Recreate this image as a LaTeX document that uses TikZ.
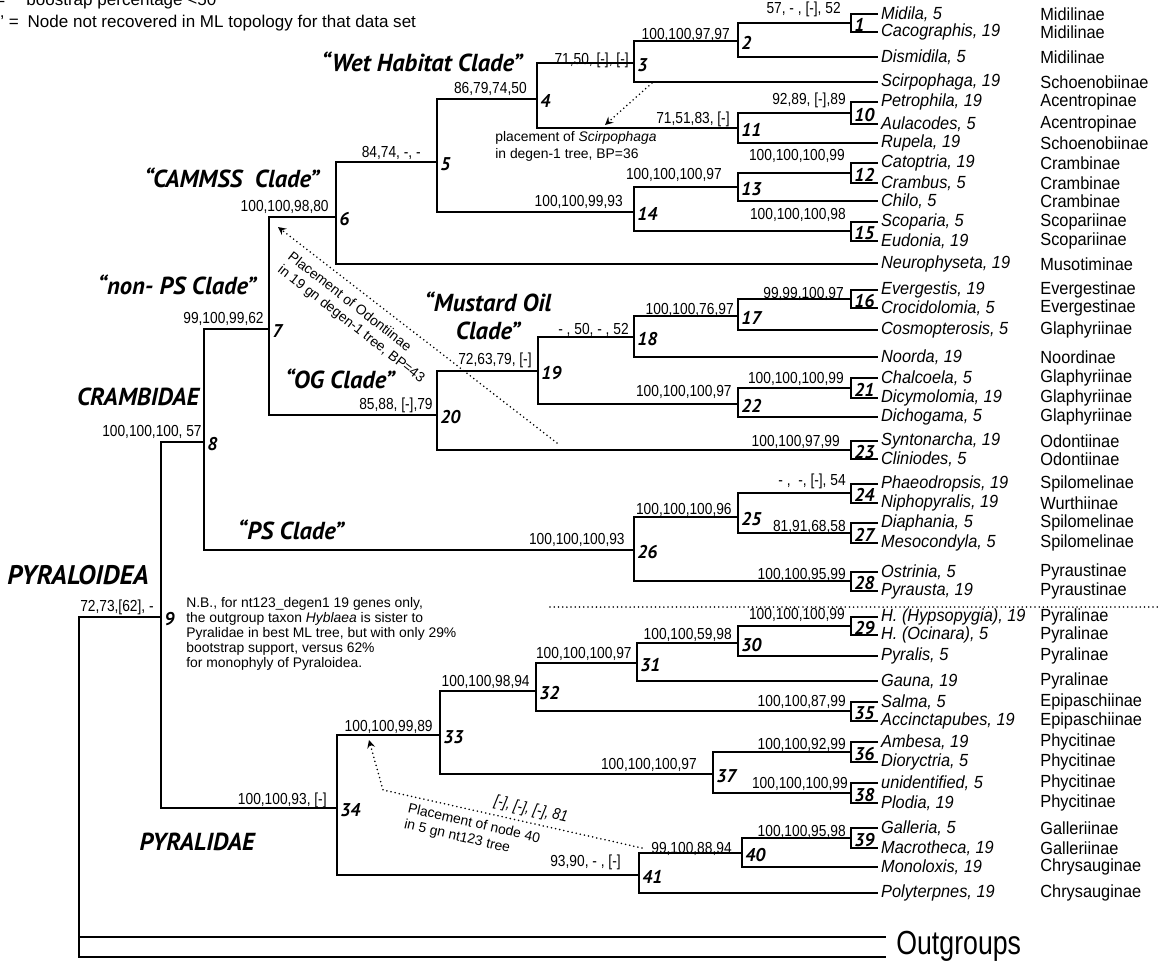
\documentclass[tikz,border=0pt]{standalone}
\usepackage{fontspec}
\setmainfont{Liberation Sans}
\newfontfamily\stretto[FakeStretch=0.86]{Liberation Sans}
\newfontfamily\tassofont[FakeStretch=0.93]{Liberation Sans}
\newfontfamily\cladefont{PT Sans}
\newfontfamily\outfont[FakeStretch=0.8]{Liberation Sans}
\begin{document}
\begin{tikzpicture}[x=0.02cm, y=-0.02cm, >=stealth,
    ramo/.style={line width=1pt},
    punt/.style={line width=1pt, line cap=round, dash pattern=on 0pt off 2.4pt},
    supp/.style={anchor=base east, inner sep=0pt, font=\stretto\fontsize{9.1}{10}\selectfont},
    num/.style={anchor=west, inner sep=0pt, font=\cladefont\bfseries\itshape\fontsize{10.5}{11}\selectfont},
    taxon/.style={anchor=west, inner sep=0pt, outer sep=1.8pt, font=\tassofont\itshape\fontsize{10}{10}\selectfont},
    subfam/.style={anchor=west, inner sep=0pt, font=\tassofont\fontsize{10}{10}\selectfont},
    clade/.style={align=center, font=\cladefont\bfseries\itshape\fontsize{14}{16}\selectfont},
    nota/.style={inner sep=0pt, align=left, font=\fontsize{7.9}{9.3}\selectfont},
    legenda/.style={anchor=base west, inner sep=0pt, font=\fontsize{9.7}{10}\selectfont}]
    \useasboundingbox (0,0) rectangle (1158,961);

    % Legenda
    \node[legenda] (leg1) at (-5,5) {=\hspace{12pt}boostrap percentage <50};
    \node[legenda] (leg2) at (0,27) {’ =\hspace{5pt}Node not recovered in ML topology for that data set};

    % Taxa
    \node[taxon] (midila) at (878,14) {Midila, 5};
    \node[taxon] (cacographis) at (878,32) {Cacographis, 19};
    \node[taxon] (dismidila) at (878,57) {Dismidila, 5};
    \node[taxon] (scirpophaga) at (878,82) {Scirpophaga, 19};
    \node[taxon] (petrophila) at (878,102) {Petrophila, 19};
    \node[taxon] (aulacodes) at (878,124) {Aulacodes, 5};
    \node[taxon] (rupela) at (878,143) {Rupela, 19};
    \node[taxon] (catoptria) at (878,163) {Catoptria, 19};
    \node[taxon] (crambus) at (878,183) {Crambus, 5};
    \node[taxon] (chilo) at (878,201) {Chilo, 5};
    \node[taxon] (scoparia) at (878,222) {Scoparia, 5};
    \node[taxon] (eudonia) at (878,241) {Eudonia, 19};
    \node[taxon] (neurophyseta) at (878,264) {Neurophyseta, 19};
    \node[taxon] (evergestis) at (878,290) {Evergestis, 19};
    \node[taxon] (crocidolomia) at (878,308) {Crocidolomia, 5};
    \node[taxon] (cosmopterosis) at (878,330) {Cosmopterosis, 5};
    \node[taxon] (noorda) at (878,357) {Noorda, 19};
    \node[taxon] (chalcoela) at (878,378) {Chalcoela, 5};
    \node[taxon] (dicymolomia) at (878,398) {Dicymolomia, 19};
    \node[taxon] (dichogama) at (878,417) {Dichogama, 5};
    \node[taxon] (syntonarcha) at (878,441) {Syntonarcha, 19};
    \node[taxon] (cliniodes) at (878,459) {Cliniodes, 5};
    \node[taxon] (phaeodropsis) at (878,484) {Phaeodropsis, 19};
    \node[taxon] (niphopyralis) at (878,503) {Niphopyralis, 19};
    \node[taxon] (diaphania) at (878,523) {Diaphania, 5};
    \node[taxon] (mesocondyla) at (878,543) {Mesocondyla, 5};
    \node[taxon] (ostrinia) at (878,572) {Ostrinia, 5};
    \node[taxon] (pyrausta) at (878,591) {Pyrausta, 19};
    \node[taxon] (hypsopygia) at (878,617) {H. (Hypsopygia), 19};
    \node[taxon] (ocinara) at (878,635) {H. (Ocinara), 5};
    \node[taxon] (pyralis) at (878,656) {Pyralis, 5};
    \node[taxon] (gauna) at (878,681) {Gauna, 19};
    \node[taxon] (salma) at (878,702) {Salma, 5};
    \node[taxon] (accinctapubes) at (878,721) {Accinctapubes, 19};
    \node[taxon] (ambesa) at (878,742) {Ambesa, 19};
    \node[taxon] (dioryctria) at (878,762) {Dioryctria, 5};
    \node[taxon] (unidentified) at (878,783) {unidentified, 5};
    \node[taxon] (plodia) at (878,803) {Plodia, 19};
    \node[taxon] (galleria) at (878,828) {Galleria, 5};
    \node[taxon] (macrotheca) at (878,848) {Macrotheca, 19};
    \node[taxon] (monoloxis) at (878,867) {Monoloxis, 19};
    \node[taxon] (polyterpnes) at (878,893) {Polyterpnes, 19};

    % Sottofamiglie
    \foreach \y/\s [count=\i] in {14/Midilinae, 32/Midilinae, 57/Midilinae, 82/Schoenobiinae,
        102/Acentropinae, 124/Acentropinae, 143/Schoenobiinae, 163/Crambinae, 183/Crambinae,
        201/Crambinae, 222/Scopariinae, 241/Scopariinae, 264/Musotiminae, 290/Evergestinae,
        308/Evergestinae, 330/Glaphyriinae, 357/Noordinae, 378/Glaphyriinae, 398/Glaphyriinae,
        417/Glaphyriinae, 441/Odontiinae, 459/Odontiinae, 484/Spilomelinae, 503/Wurthiinae,
        523/Spilomelinae, 543/Spilomelinae, 572/Pyraustinae, 591/Pyraustinae, 617/Pyralinae,
        635/Pyralinae, 656/Pyralinae, 681/Pyralinae, 702/Epipaschiinae, 721/Epipaschiinae,
        742/Phycitinae, 762/Phycitinae, 783/Phycitinae, 803/Phycitinae, 828/Galleriinae,
        848/Galleriinae, 867/Chrysauginae, 893/Chrysauginae}
        \node[subfam] (sf\i) at (1040,\y) {\s};

    % Nodi interni
    \coordinate (n1) at (851,23);
    \coordinate (n2) at (738,41);
    \coordinate (n3) at (634,63);
    \coordinate (n4) at (537,99);
    \coordinate (n5) at (437,162);
    \coordinate (n6) at (336,217);
    \coordinate (n7) at (269,329);
    \coordinate (n8) at (204,442);
    \coordinate (n9) at (161,617);
    \coordinate (n10) at (851,113);
    \coordinate (n11) at (738,128);
    \coordinate (n12) at (851,173);
    \coordinate (n13) at (738,187);
    \coordinate (n14) at (634,212);
    \coordinate (n15) at (851,231);
    \coordinate (n16) at (851,299);
    \coordinate (n17) at (738,316);
    \coordinate (n18) at (634,337);
    \coordinate (n19) at (538,371);
    \coordinate (n20) at (437,415);
    \coordinate (n21) at (851,388);
    \coordinate (n22) at (738,404);
    \coordinate (n23) at (851,450);
    \coordinate (n24) at (851,493);
    \coordinate (n25) at (738,517);
    \coordinate (n26) at (634,550);
    \coordinate (n27) at (851,533);
    \coordinate (n28) at (851,581);
    \coordinate (n29) at (851,626);
    \coordinate (n30) at (738,643);
    \coordinate (n31) at (637,663);
    \coordinate (n32) at (536,691);
    \coordinate (n33) at (440,735);
    \coordinate (n34) at (337,808);
    \coordinate (n35) at (851,711);
    \coordinate (n36) at (851,752);
    \coordinate (n37) at (713,774);
    \coordinate (n38) at (851,793);
    \coordinate (n39) at (851,838);
    \coordinate (n40) at (742,853);
    \coordinate (n41) at (639,875);
    \coordinate (r) at (79,617);
    \coordinate (og1) at (886,937);
    \coordinate (og2) at (886,957);

    % Rami
    \draw[ramo] (midila.west) -| (n1) |- (cacographis.west);
    \draw[ramo] (n1) -| (n2) |- (dismidila.west);
    \draw[ramo] (n2) -| (n3) |- (scirpophaga.west);
    \draw[ramo] (petrophila.west) -| (n10) |- (aulacodes.west);
    \draw[ramo] (n10) -| (n11) |- (rupela.west);
    \draw[ramo] (n3) -| (n4) |- (n11);
    \draw[ramo] (catoptria.west) -| (n12) |- (crambus.west);
    \draw[ramo] (n12) -| (n13) |- (chilo.west);
    \draw[ramo] (scoparia.west) -| (n15) |- (eudonia.west);
    \draw[ramo] (n13) -| (n14) |- (n15);
    \draw[ramo] (n4) -| (n5) |- (n14);
    \draw[ramo] (n5) -| (n6) |- (neurophyseta.west);
    \draw[ramo] (evergestis.west) -| (n16) |- (crocidolomia.west);
    \draw[ramo] (n16) -| (n17) |- (cosmopterosis.west);
    \draw[ramo] (n17) -| (n18) |- (noorda.west);
    \draw[ramo] (chalcoela.west) -| (n21) |- (dicymolomia.west);
    \draw[ramo] (n21) -| (n22) |- (dichogama.west);
    \draw[ramo] (n18) -| (n19) |- (n22);
    \draw[ramo] (syntonarcha.west) -| (n23) |- (cliniodes.west);
    \draw[ramo] (n19) -| (n20) |- (n23);
    \draw[ramo] (n6) -| (n7) |- (n20);
    \draw[ramo] (phaeodropsis.west) -| (n24) |- (niphopyralis.west);
    \draw[ramo] (diaphania.west) -| (n27) |- (mesocondyla.west);
    \draw[ramo] (n24) -| (n25) |- (n27);
    \draw[ramo] (ostrinia.west) -| (n28) |- (pyrausta.west);
    \draw[ramo] (n25) -| (n26) |- (n28);
    \draw[ramo] (n7) -| (n8) |- (n26);
    \draw[ramo] (hypsopygia.west) -| (n29) |- (ocinara.west);
    \draw[ramo] (n29) -| (n30) |- (pyralis.west);
    \draw[ramo] (n30) -| (n31) |- (gauna.west);
    \draw[ramo] (salma.west) -| (n35) |- (accinctapubes.west);
    \draw[ramo] (n31) -| (n32) |- (n35);
    \draw[ramo] (ambesa.west) -| (n36) |- (dioryctria.west);
    \draw[ramo] (unidentified.west) -| (n38) |- (plodia.west);
    \draw[ramo] (n36) -| (n37) |- (n38);
    \draw[ramo] (n32) -| (n33) |- (n37);
    \draw[ramo] (galleria.west) -| (n39) |- (macrotheca.west);
    \draw[ramo] (n39) -| (n40) |- (monoloxis.west);
    \draw[ramo] (n40) -| (n41) |- (polyterpnes.west);
    \draw[ramo] (n33) -| (n34) |- (n41);
    \draw[ramo] (n8) -| (n9) |- (n34);

    % Radice e outgroups
    \draw[ramo] (n9) -- (r) |- (og2);
    \draw[ramo] (r |- og1) -- (og1);
    \node[anchor=west, inner sep=0pt, font=\outfont\fontsize{19}{20}\selectfont] (outg) at (896,946) {Outgroups};

    % Valori di supporto
    \node[supp] (s1) at (841,13) {57, - , [-], 52};
    \node[supp] (s2) at (730,39) {100,100,97,97};
    \node[supp] (s3) at (629,64) {71,50, [-], [-]};
    \node[supp] (s4) at (527,93) {86,79,74,50};
    \node[supp] (s5) at (421,157) {84,74, -, -};
    \node[supp] (s6) at (329,211) {100,100,98,80};
    \node[supp] (s7) at (264,323) {99,100,99,62};
    \node[supp] (s8) at (202,436) {100,100,100, 57};
    \node[supp] (s9) at (154,611) {72,73,[62], -};
    \node[supp] (s10) at (846,104) {92,89, [-],89};
    \node[supp] (s11) at (730,123) {71,51,83, [-]};
    \node[supp] (s12) at (845,160) {100,100,100,99};
    \node[supp] (s13) at (722,179) {100,100,100,97};
    \node[supp] (s14) at (623,206) {100,100,99,93};
    \node[supp] (s15) at (846,219) {100,100,100,98};
    \node[supp] (s16) at (844,298) {99,99,100,97};
    \node[supp] (s17) at (734,314) {100,100,76,97};
    \node[supp] (s18) at (629,334) {- , 50, - , 52};
    \node[supp] (s19) at (532,364) {72,63,79, [-]};
    \node[supp] (s20) at (433,409) {85,88, [-],79};
    \node[supp] (s21) at (844,383) {100,100,100,99};
    \node[supp] (s22) at (732,396) {100,100,100,97};
    \node[supp] (s23) at (840,446) {100,100,97,99};
    \node[supp] (s24) at (846,485) {- ,\ \ -, [-], 54};
    \node[supp] (s25) at (732,514) {100,100,100,96};
    \node[supp] (s26) at (625,544) {100,100,100,93};
    \node[supp] (s27) at (846,531) {81,91,68,58};
    \node[supp] (s28) at (846,579) {100,100,95,99};
    \node[supp] (s29) at (845,619) {100,100,100,99};
    \node[supp] (s30) at (732,639) {100,100,59,98};
    \node[supp] (s31) at (632,658) {100,100,100,97};
    \node[supp] (s32) at (530,686) {100,100,98,94};
    \node[supp] (s33) at (433,731) {100,100,99,89};
    \node[supp] (s34) at (327,804) {100,100,93, [-]};
    \node[supp] (s35) at (846,706) {100,100,87,99};
    \node[supp] (s36) at (846,749) {100,100,92,99};
    \node[supp] (s37) at (697,769) {100,100,100,97};
    \node[supp] (s38) at (848,788) {100,100,100,99};
    \node[supp] (s39) at (846,836) {100,100,95,98};
    \node[supp] (s40) at (732,853) {99,100,88,94};
    \node[supp] (s41) at (621,866) {93,90, - , [-]};

    % Numeri dei nodi
    \foreach \k/\x/\y in {1/854/25, 2/741/43, 3/637/65, 4/540/101, 5/440/164, 6/339/219,
        7/272/331, 8/207/444, 9/164/619, 10/854/115, 11/741/130, 12/854/175, 13/741/189,
        14/637/214, 15/854/233, 16/854/301, 17/741/318, 18/637/339, 19/541/373, 20/440/417,
        21/854/390, 22/741/406, 23/854/452, 24/854/495, 25/741/519, 26/637/552, 27/854/535,
        28/854/583, 29/854/628, 30/741/645, 31/640/665, 32/539/693, 33/443/737, 34/340/810,
        35/854/713, 36/854/754, 37/716/776, 38/854/795, 39/854/840, 40/745/855, 41/642/877}
        \node[num] (k\k) at (\x,\y) {\k};

    % Nomi dei cladi
    \node[clade] (wet) at (422,62) {“Wet Habitat Clade”};
    \node[clade] (cammss) at (232,178) {“CAMMSS\ \ Clade”};
    \node[clade] (nonps) at (177,285) {“non- PS Clade”};
    \node[clade] (mustard) at (488,316) {“Mustard Oil\\Clade”};
    \node[clade] (og) at (340,379) {“OG Clade”};
    \node[clade] (cramb) at (138,397) {CRAMBIDAE};
    \node[clade] (ps) at (291,530) {“PS Clade”};
    \node[clade, font=\cladefont\bfseries\itshape\fontsize{15.3}{17}\selectfont] (pyraloidea) at (78,575) {PYRALOIDEA};
    \node[clade] (pyralidae) at (197,842) {PYRALIDAE};

    % Note
    \node[nota, anchor=north west, font=\fontsize{7.9}{8.5}\selectfont] (nb) at (186,597)
        {N.B., for nt123\_degen1 19 genes only,\\the outgroup taxon \textit{Hyblaea} is sister to\\
        Pyralidae in best ML tree, but with only 29\%\\bootstrap support, versus 62\%\\for monophyly of Pyraloidea.};
    \node[nota, anchor=north west, font=\fontsize{7.9}{9.6}\selectfont] (plsc) at (495,131)
        {placement of \textit{Scirpophaga}\\in degen-1 tree, BP=36};
    \node[nota, rotate=-38] (plod) at (356,318) {Placement of Odontiinae\\in 19 gn degen-1 tree, BP=43};
    \node[nota, rotate=-13] (pl40) at (472,832) {Placement of node 40\\in 5 gn nt123 tree};
    \node[supp, anchor=center, font=\stretto\itshape\fontsize{9.1}{10}\selectfont, rotate=-12.5] (s40b) at (531,810) {[-], [-], [-], 81};

    % Frecce tratteggiate
    \coordinate (scA) at (652,83);
    \coordinate (scB) at (605,125);
    \coordinate (odA) at (557,443);
    \coordinate (odB) at (278,227);
    \coordinate (qA) at (642,848);
    \coordinate (qB) at (383,790);
    \coordinate (qC) at (369,740);
    \coordinate (sepA) at (550,607);
    \coordinate (sepB) at (1158,607);
    \draw[punt,->] (scA) -- (scB);
    \draw[punt,->] (odA) -- (odB);
    \draw[punt,->] (qA) -- (qB) -- (qC);
    \draw[punt] (sepA) -- (sepB);
\end{tikzpicture}
\end{document}
